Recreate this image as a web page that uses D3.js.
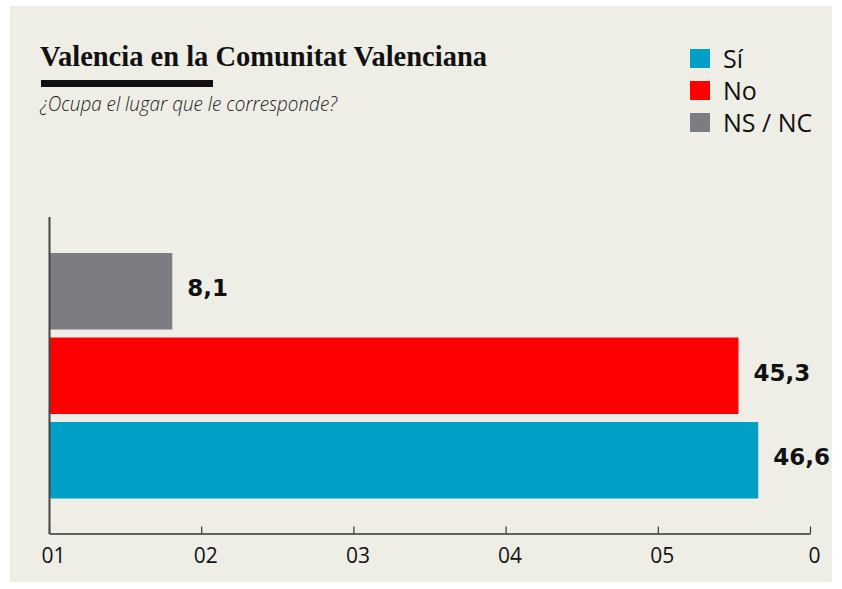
<!DOCTYPE html>
<html><head><meta charset="utf-8">
<script src="https://cdn.jsdelivr.net/npm/d3@7"></script>
<style>body{margin:0;background:#fff;} svg{display:block;}</style>
</head><body>
<script>
const categories = ["NS / NC", "No", "Sí"];
const values = [8.1, 45.3, 46.6];
const valueLabels = ["8,1", "45,3", "46,6"];
const colors = ["#7c7d80", "#ff0000", "#00a0c6"];
const legendLabels = ["Sí", "No", "NS / NC"];
const legendColors = ["#00a0c6", "#ff0000", "#7c7d80"];
const tickValues = [0, 10, 20, 30, 40, 50];
const tickLabels = ["01", "02", "03", "04", "05", "0"];
const title = "Valencia en la Comunitat Valenciana";
const subtitle = "¿Ocupa el lugar que le corresponde?";

const W = 842, H = 589;
const svg = d3.select("body").append("svg").attr("width", W).attr("height", H);
svg.append("rect").attr("x", 10).attr("y", 6).attr("width", 822).attr("height", 576).attr("fill", "#efeee6");

svg.append("text").attr("x", 40).attr("y", 66).text(title)
  .attr("font-family", "Liberation Serif").attr("font-weight", "bold").attr("font-size", 30)
  .attr("textLength", 447).attr("lengthAdjust", "spacingAndGlyphs").attr("fill", "#111");
svg.append("rect").attr("x", 41).attr("y", 80).attr("width", 172).attr("height", 7).attr("fill", "#111");
svg.append("text").attr("x", 40).attr("y", 111).text(subtitle)
  .attr("font-family", "Open Sans").attr("font-style", "italic").attr("font-weight", 300).attr("font-size", 20)
  .attr("textLength", 297).attr("lengthAdjust", "spacingAndGlyphs").attr("fill", "#222");

const x = d3.scaleLinear().domain([0, 50]).range([49, 810]);
const y = d3.scaleBand().domain(categories).range([253, 498.5]).paddingInner(0.0947).paddingOuter(0);

svg.selectAll("rect.bar").data(categories).enter().append("rect").attr("class", "bar")
  .attr("x", x(0)).attr("y", d => y(d)).attr("width", (d, i) => x(values[i]) - x(0))
  .attr("height", y.bandwidth()).attr("fill", (d, i) => colors[i]);

svg.selectAll("text.val").data(categories).enter().append("text").attr("class", "val")
  .attr("x", (d, i) => x(values[i]) + 15).attr("y", d => y(d) + y.bandwidth() / 2 + 5)
  .text((d, i) => valueLabels[i])
  .attr("font-family", "DejaVu Sans").attr("font-weight", "bold").attr("font-size", 23).attr("fill", "#111");

const axis = d3.axisBottom(x).tickValues(tickValues).tickFormat((d, i) => tickLabels[i]).tickSize(-7).tickSizeOuter(0);
const g = svg.append("g").attr("transform", "translate(0,533.5)").call(axis);
g.select(".domain").attr("stroke", "#333").attr("stroke-width", 1.5);
g.selectAll(".tick line").attr("stroke", "#333").attr("stroke-width", 1.2);
g.selectAll(".tick text").attr("y", 15).attr("dy", "0.71em").attr("dx", 4)
  .attr("font-family", "Open Sans").attr("font-size", 21).attr("fill", "#111");

svg.append("line").attr("x1", 49.5).attr("x2", 49.5).attr("y1", 217).attr("y2", 534)
  .attr("stroke", "#444").attr("stroke-width", 2);

const lg = svg.append("g");
legendLabels.forEach((l, i) => {
  const yy = 49 + i * 32;
  lg.append("rect").attr("x", 690).attr("y", yy).attr("width", 20).attr("height", 19).attr("fill", legendColors[i]);
  lg.append("text").attr("x", 723).attr("y", yy + 19).text(l)
    .attr("font-family", "Open Sans").attr("font-size", 25).attr("fill", "#111");
});
</script>
</body></html>
